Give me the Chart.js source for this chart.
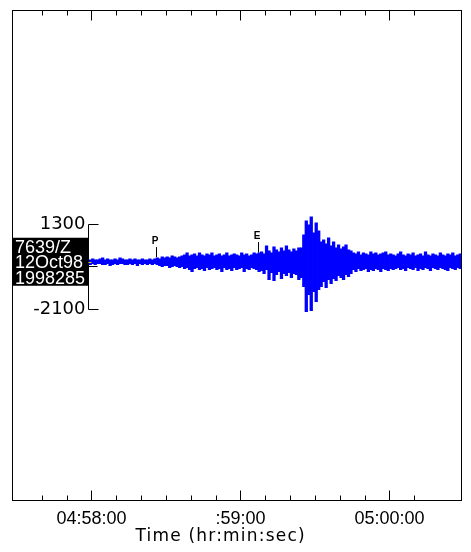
<!DOCTYPE html>
<html>
<head>
<meta charset="utf-8">
<script src="https://cdn.jsdelivr.net/npm/chart.js@4.4.1/dist/chart.umd.min.js"></script>
<style>
  html, body { margin: 0; padding: 0; background: #fff; }
  #seis { display: block; }
</style>
</head>
<body>
<canvas id="seis" width="471" height="552"></canvas>
<script>
// seconds relative to 04:58:00, one max/min pair per second
const sampleStart = -0.5;
const sampleStep = 1;

// counts
const upper = [
  -140,-100,-140,-140,-100,-60,-140,-100,-140,-140,-100,-140,-60,-100,-140,-140,-100,-140,-100,-140,-140,-100,-140,-140,-100,-140,-100,
  -60,-100,-20,-60,-20,-60,20,-20,-60,-20,20,
  60,140,20,60,100,20,140,60,20,100,60,140,20,60,
  100,20,60,140,20,60,100,60,20,140,60,100,20,60,140,100,
  140,180,100,420,220,140,380,260,180,340,220,420,260,180,300,220,340,
  340,860,1420,1260,1580,940,1340,1020,580,
  660,500,740,420,580,340,460,300,380,460,260,220,
  140,100,180,60,140,100,60,180,100,140,60,100,140,180,60,100,
  60,20,100,180,60,20,100,60,140,20,60,100,20,180,60,20,100,60,20,140,60,20,100,60,140,20,60,100
];
const lower = [
  -340,-300,-340,-300,-300,-340,-340,-300,-380,-340,-300,-340,-300,-300,-340,-340,-300,-340,-300,-380,-300,-340,-300,-340,-300,-340,-300,
  -340,-380,-420,-380,-380,-460,-420,-380,-420,-460,-420,
  -500,-460,-540,-620,-500,-460,-540,-500,-580,-460,-540,-500,-460,-540,
  -500,-620,-460,-540,-500,-580,-460,-540,-500,-460,-620,-500,-540,-460,-500,-540,
  -620,-580,-700,-540,-940,-660,-980,-740,-620,-900,-700,-780,-660,-860,-700,-740,-940,
  -860,-1220,-2220,-1540,-2180,-1420,-1820,-1340,-1220,
  -1020,-1260,-940,-1100,-900,-980,-780,-860,-940,-740,-820,-700,
  -540,-620,-500,-580,-540,-500,-620,-540,-580,-500,-540,-620,-500,-540,-580,-500,
  -540,-500,-460,-540,-500,-580,-460,-500,-540,-460,-580,-500,-540,-460,-500,-580,-460,-500,-540,-460,-500,-540,-580,-460,-500,-540,-460,-500
];

const labelSecs = [0, 60, 120];
const labelText = ['04:58:00', ':59:00', '05:00:00'];
const axisTitle = 'Time (hr:min:sec)';

const phaseNames = ['P', 'E'];
const phaseSecs = [25.8, 66.9];

const stationLines = ['7639/Z', '12Oct98', '1998285'];
const scaleBar = [1300, -2100];
const traceMean = -220;

const xMin = -31.8, xMax = 149;
const yMin = -9770, yMax = 9830;

const trace = upper.map((u, i) => ({ x: sampleStart + i * sampleStep, y: [lower[i], u] }));

const isTen = v => Math.abs(v / 10 - Math.round(v / 10)) < 1e-6;

const decor = {
  id: 'decor',
  afterDraw(chart) {
    const { ctx, chartArea: a } = chart;
    const xs = chart.scales.x, ys = chart.scales.y;
    ctx.save();
    ctx.strokeStyle = '#000';
    ctx.lineWidth = 1;
    ctx.strokeRect(a.left, a.top, a.right - a.left, a.bottom - a.top);

    // inward ticks every 10 s, longer every minute
    ctx.beginPath();
    xs.ticks.forEach(t => {
      if (!isTen(t.value)) return;
      const px = Math.round(xs.getPixelForValue(t.value)) + 0.5;
      const len = Math.round(t.value) % 60 === 0 ? 10 : 5;
      ctx.moveTo(px, a.top); ctx.lineTo(px, a.top + len);
      ctx.moveTo(px, a.bottom); ctx.lineTo(px, a.bottom - len);
    });
    ctx.stroke();

    // axis title
    ctx.fillStyle = '#000';
    ctx.font = '17px "DejaVu Sans"';
    ctx.letterSpacing = '1.2px';
    ctx.textAlign = 'center';
    ctx.textBaseline = 'middle';
    ctx.fillText(axisTitle, xs.getPixelForValue(52), 537);
    ctx.letterSpacing = '0px';

    // amplitude bracket
    const bx = Math.round(xs.getPixelForValue(sampleStart - sampleStep / 2)) - 0.5;
    const yTop = Math.round(ys.getPixelForValue(scaleBar[0])) + 0.5;
    const yBot = Math.round(ys.getPixelForValue(scaleBar[1])) + 0.5;
    ctx.beginPath();
    ctx.moveTo(bx + 10, yTop); ctx.lineTo(bx, yTop); ctx.lineTo(bx, yBot); ctx.lineTo(bx + 10, yBot);
    ctx.stroke();

    ctx.font = '18px "DejaVu Sans"';
    ctx.textAlign = 'right';
    ctx.fillText(String(scaleBar[0]), bx - 3, yTop);
    ctx.fillText(String(scaleBar[1]), bx - 3, yBot);

    // station label box
    const yc = ys.getPixelForValue(traceMean);
    ctx.fillRect(a.left, yc - 24, bx - a.left, 48);
    ctx.fillStyle = '#fff';
    ctx.font = '18px "Liberation Sans"';
    ctx.textAlign = 'left';
    stationLines.forEach((s, i) => ctx.fillText(s, a.left + 2.5, yc - 14 + i * 15.5));

    // zero marks at trace start
    ctx.strokeStyle = '#e8d800';
    ctx.beginPath(); ctx.moveTo(bx, Math.round(yc) + 0.5); ctx.lineTo(bx + 3, Math.round(yc) + 0.5); ctx.stroke();
    ctx.strokeStyle = '#000';
    ctx.beginPath(); ctx.moveTo(bx, Math.round(yc) + 4.5); ctx.lineTo(bx + 9, Math.round(yc) + 4.5); ctx.stroke();

    // phase picks
    ctx.fillStyle = '#000';
    ctx.font = 'bold 10px "Liberation Sans"';
    ctx.textAlign = 'center';
    ctx.textBaseline = 'alphabetic';
    const pickTop = [368, 568], pickBot = [-32, 152];
    phaseNames.forEach((n, i) => {
      const px = Math.round(xs.getPixelForValue(phaseSecs[i])) + 0.5;
      const y0 = ys.getPixelForValue(pickTop[i]);
      const y1 = ys.getPixelForValue(pickBot[i]);
      ctx.beginPath(); ctx.moveTo(px, y0); ctx.lineTo(px, y1); ctx.stroke();
      ctx.fillText(n, px - 1.5, y0 - 3);
    });
    ctx.restore();
  }
};

new Chart(document.getElementById('seis'), {
  type: 'bar',
  data: {
    datasets: [{
      data: trace,
      backgroundColor: '#0000ff',
      borderWidth: 0,
      barThickness: 'flex',
      barPercentage: 1.06,
      categoryPercentage: 1
    }]
  },
  options: {
    responsive: false,
    animation: false,
    events: [],
    layout: { padding: { left: 12.5, right: 9.5, top: 10.5, bottom: 0 } },
    plugins: { legend: { display: false }, tooltip: { enabled: false } },
    scales: {
      x: {
        type: 'linear', min: xMin, max: xMax, offset: false,
        grid: { display: false, drawTicks: false },
        border: { display: false },
        ticks: {
          stepSize: 10, autoSkip: false, maxRotation: 0, padding: 8, color: '#000',
          font: { family: 'Liberation Sans', size: 18 },
          callback: v => {
            const k = labelSecs.findIndex(s => Math.abs(s - v) < 1e-6);
            return k < 0 ? '' : labelText[k];
          }
        },
        afterFit: s => { s.height = 51.5; }
      },
      y: { display: false, min: yMin, max: yMax }
    }
  },
  plugins: [decor]
});
</script>
</body>
</html>
